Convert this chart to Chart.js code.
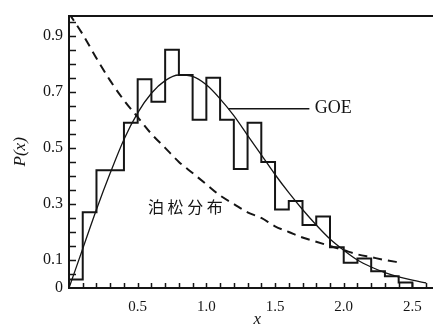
<!DOCTYPE html>
<html>
<head>
<meta charset="utf-8">
<script src="https://cdn.jsdelivr.net/npm/chart.js@4.4.1/dist/chart.umd.min.js"></script>
<style>
  body { margin: 0; background: #fff; }
  canvas { display: block; }
</style>
</head>
<body>
<canvas id="pxChart" width="433" height="328"></canvas>
<script>
// histogram: left edge of each 0.1 wide bin and its height
const binLeft = [0, 0.1, 0.2, 0.3, 0.4, 0.5, 0.6, 0.7, 0.8, 0.9, 1.0, 1.1, 1.2,
                 1.3, 1.4, 1.5, 1.6, 1.7, 1.8, 1.9, 2.0, 2.1, 2.2, 2.3, 2.4];
const binHeight = [0.03, 0.27, 0.42, 0.42, 0.59, 0.745, 0.665, 0.85, 0.76, 0.60, 0.75, 0.60, 0.425,
                   0.59, 0.45, 0.28, 0.31, 0.225, 0.255, 0.145, 0.09, 0.105, 0.06, 0.042, 0.02];
const histEnd = 2.5;

// GOE curve (solid)
const goeX = [0, 0.1, 0.2, 0.3, 0.4, 0.5, 0.6, 0.7, 0.8, 0.9, 1.0, 1.1, 1.2, 1.3,
              1.4, 1.5, 1.6, 1.7, 1.8, 1.9, 2.0, 2.1, 2.2, 2.3, 2.4, 2.5, 2.6];
const goeValues = [0, 0.14, 0.28, 0.41, 0.53, 0.625, 0.695, 0.74, 0.76, 0.755, 0.725, 0.675, 0.615, 0.545,
                   0.475, 0.405, 0.34, 0.28, 0.225, 0.175, 0.135, 0.10, 0.075, 0.055, 0.04, 0.028, 0.018];

// Poisson curve (dashed)
const poissonX = [0, 0.1, 0.2, 0.3, 0.4, 0.5, 0.6, 0.7, 0.8, 0.9, 1.0, 1.1, 1.2,
                  1.3, 1.4, 1.5, 1.6, 1.7, 1.8, 1.9, 2.0, 2.1, 2.2, 2.3, 2.42];
const poissonValues = [0.98, 0.905, 0.82, 0.74, 0.67, 0.61, 0.55, 0.50, 0.45, 0.41, 0.37, 0.33, 0.30,
                       0.27, 0.25, 0.22, 0.20, 0.18, 0.165, 0.15, 0.135, 0.12, 0.11, 0.10, 0.09];

const yTickLabels = ['0', '0.1', '0.3', '0.5', '0.7', '0.9'];
const xTickLabels = ['0.5', '1.0', '1.5', '2.0', '2.5'];

const ink = '#151515';
const serif = '"Liberation Serif", "DejaVu Serif", serif';

const histPoints = [{ x: 0, y: 0 }];
binLeft.forEach((b, i) => histPoints.push({ x: b, y: binHeight[i] }));
histPoints.push({ x: histEnd, y: binHeight[binHeight.length - 1] });
histPoints.push({ x: histEnd, y: 0 });

const goePoints = goeX.map((x, i) => ({ x: x, y: goeValues[i] }));
const poissonPoints = poissonX.map((x, i) => ({ x: x, y: poissonValues[i] }));

// inward tick marks, labels and the x title
const extras = {
  id: 'extras',
  afterDraw(chart) {
    const ctx = chart.ctx;
    const xs = chart.scales.x, ys = chart.scales.y;
    const area = chart.chartArea;
    ctx.save();
    ctx.strokeStyle = ink;
    ctx.lineWidth = 1.5;
    ctx.beginPath();
    for (let v = 0.05; v < 0.96; v += 0.05) {
      const py = Math.round(ys.getPixelForValue(v)) + 0.5;
      ctx.moveTo(area.left, py);
      ctx.lineTo(area.left + 7, py);
    }
    for (let v = 0.1; v < 2.62; v += 0.1) {
      const px = Math.round(xs.getPixelForValue(v)) + 0.5;
      ctx.moveTo(px, area.bottom);
      ctx.lineTo(px, area.bottom - 5);
    }
    // GOE leader line
    const ly = ys.getPixelForValue(0.64);
    ctx.moveTo(xs.getPixelForValue(1.16), ly);
    ctx.lineTo(xs.getPixelForValue(1.75), ly);
    ctx.stroke();

    ctx.fillStyle = ink;
    ctx.textBaseline = 'middle';
    ctx.textAlign = 'left';
    ctx.font = '18px ' + serif;
    ctx.fillText('GOE', xs.getPixelForValue(1.79), ly);
    ctx.font = '16px "Noto Sans CJK SC"';
    ctx.fillText('泊 松 分 布', xs.getPixelForValue(0.575), ys.getPixelForValue(0.29));
    ctx.textAlign = 'center';
    ctx.font = 'italic 17px ' + serif;
    ctx.fillText('x', xs.getPixelForValue(1.37), 320);
    ctx.restore();
  }
};

new Chart(document.getElementById('pxChart'), {
  type: 'line',
  data: {
    datasets: [
      {
        label: 'histogram',
        data: histPoints,
        stepped: 'before',
        borderColor: ink,
        borderWidth: 2,
        pointRadius: 0,
        fill: false
      },
      {
        label: 'GOE',
        data: goePoints,
        borderColor: ink,
        borderWidth: 1.3,
        cubicInterpolationMode: 'monotone',
        pointRadius: 0,
        fill: false
      },
      {
        label: 'Poisson',
        data: poissonPoints,
        borderColor: ink,
        borderWidth: 2,
        borderDash: [9, 6],
        cubicInterpolationMode: 'monotone',
        pointRadius: 0,
        fill: false
      }
    ]
  },
  options: {
    responsive: false,
    animation: false,
    layout: { padding: { top: 13, right: 0, left: 0, bottom: 0 } },
    plugins: { legend: { display: false }, tooltip: { enabled: false } },
    scales: {
      x: {
        type: 'linear',
        min: 0,
        max: 2.65,
        grid: { display: false, drawTicks: false },
        border: { display: true, color: ink, width: 2 },
        afterBuildTicks: s => { s.ticks = xTickLabels.map(t => ({ value: parseFloat(t) })); },
        ticks: {
          padding: 10,
          color: ink,
          font: { family: serif, size: 15 },
          callback: v => v.toFixed(1)
        },
        afterFit: s => { s.height = 40; }
      },
      xTop: {
        type: 'linear',
        position: 'top',
        min: 0,
        max: 2.65,
        grid: { display: false, drawTicks: false },
        border: { display: true, color: ink, width: 2 },
        ticks: { display: false },
        afterFit: s => { s.height = 0; }
      },
      y: {
        min: 0,
        max: 0.972,
        grid: { display: false, drawTicks: false },
        border: { display: true, color: ink, width: 2 },
        afterBuildTicks: s => { s.ticks = yTickLabels.map(t => ({ value: parseFloat(t) })); },
        ticks: {
          padding: 6,
          color: ink,
          font: { family: serif, size: 16 },
          callback: v => (v === 0 ? '0' : v.toFixed(1))
        },
        title: {
          display: true,
          text: 'P(x)',
          color: ink,
          font: { family: serif, size: 17, style: 'italic' },
          padding: { top: 10, bottom: 0 }
        },
        afterFit: s => { s.width = 69; }
      }
    }
  },
  plugins: [extras]
});
</script>
</body>
</html>
